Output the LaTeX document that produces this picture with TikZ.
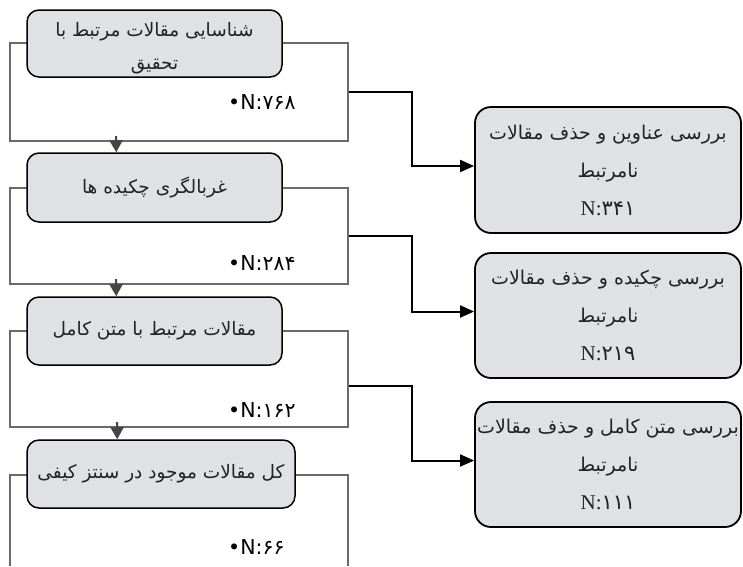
\documentclass[tikz,border=0pt]{standalone}
\usepackage{fontspec}
\usetikzlibrary{arrows.meta,calc}
\TeXXeTstate=1
\newfontfamily\arabicfont[Script=Arabic]{DejaVu Sans}
\newfontfamily\nserif{Liberation Serif}
\definecolor{boxgray}{HTML}{DFE1E4}
\definecolor{framegray}{HTML}{6B6B6B}
\definecolor{arrgray}{HTML}{454545}
\definecolor{txtgray}{HTML}{222222}
\newcommand{\rl}[1]{\beginR #1\endR}
\newcommand{\nline}[1]{{\fontsize{21}{38}\selectfont{\nserif N:}#1}}
\begin{document}
\begin{tikzpicture}[x=1pt,y=-1pt,
  lbox/.style={draw=black, line width=1.5pt, fill=boxgray, rounded corners=12pt, inner sep=0pt,
    align=center, text=txtgray, font=\arabicfont\fontsize{18.5}{33}\selectfont},
  rbox/.style={draw=black, line width=1.8pt, fill=boxgray, rounded corners=16pt, inner sep=0pt,
    align=center, text=txtgray, minimum width=266pt, font=\arabicfont\fontsize{19}{38}\selectfont},
  frm/.style={draw=framegray, line width=2pt, inner sep=0pt, minimum width=338pt},
  nlab/.style={anchor=west, inner sep=0pt, font=\arabicfont\fontsize{20.5}{22}\selectfont, text=black},
  darr/.style={draw=arrgray, line width=2pt, -{Triangle[length=12pt,width=13pt]}},
  rarr/.style={draw=black, line width=2pt, -{Triangle[length=14pt,width=12pt]}}]
\useasboundingbox (0,0) rectangle (743,566);
% frames
\node[frm, minimum height=98pt] (f1) at (179,92) {};
\node[frm, minimum height=96pt] (f2) at (179,236) {};
\node[frm, minimum height=96pt] (f3) at (179,379) {};
\draw[framegray, line width=2pt] (10,566) -- (10,475) -- (348,475) -- (348,566);
% left boxes
\node[lbox, minimum width=255pt, minimum height=67pt] (b1) at (154.5,43.5) {\rule{0pt}{24pt}\rl{شناسایی مقالات مرتبط با}\\\rl{تحقیق}};
\node[lbox, minimum width=255pt, minimum height=69pt] (b2) at (154.5,187.5) {\rl{غربالگری چکیده ها}};
\node[lbox, minimum width=255pt, minimum height=68pt] (b3) at (154.5,331) {\rl{مقالات مرتبط با متن کامل}};
\node[lbox, minimum width=268pt, minimum height=68pt] (b4) at (161,474) {\rl{کل مقالات موجود در سنتز کیفی}};
% N labels
\node[nlab] (n1) at (228,102) {•N:۷۶۸};
\node[nlab] (n2) at (228,263) {•N:۲۸۴};
\node[nlab] (n3) at (228,410) {•N:۱۶۲};
\node[nlab] (n4) at (228,547) {•N:۶۶};
% down arrows
\draw[darr] ([xshift=107pt,yshift=6pt]f1.south west) -- ([xshift=90pt]b2.north west);
\draw[darr] ([xshift=107pt,yshift=6pt]f2.south west) -- ([xshift=90pt]b3.north west);
\draw[darr] ([xshift=108pt,yshift=6pt]f3.south west) -- ([xshift=91pt]b4.north west);
% right boxes
\node[rbox, minimum height=126pt] (r1) at (608,170) {\rl{بررسی عناوین و حذف مقالات}\\\rl{نامرتبط}\\\nline{۳۴۱}};
\node[rbox, minimum height=125pt] (r2) at (608,315.5) {\rl{بررسی چکیده و حذف مقالات}\\\rl{نامرتبط}\\\nline{۲۱۹}};
\node[rbox, minimum height=125pt] (r3) at (608,464.5) {\rl{بررسی متن کامل و حذف مقالات}\\\rl{نامرتبط}\\\nline{۱۱۱}};
% right connectors
\draw[rarr] (f1.east) -- ++(63,0) |- ([yshift=4pt]r1.west);
\draw[rarr] (f2.east) -- ++(63,0) |- ([yshift=4pt]r2.west);
\draw[rarr] ([yshift=-7pt]f3.east) -- ++(63,0) |- ([yshift=4pt]r3.west);
\end{tikzpicture}
\end{document}
